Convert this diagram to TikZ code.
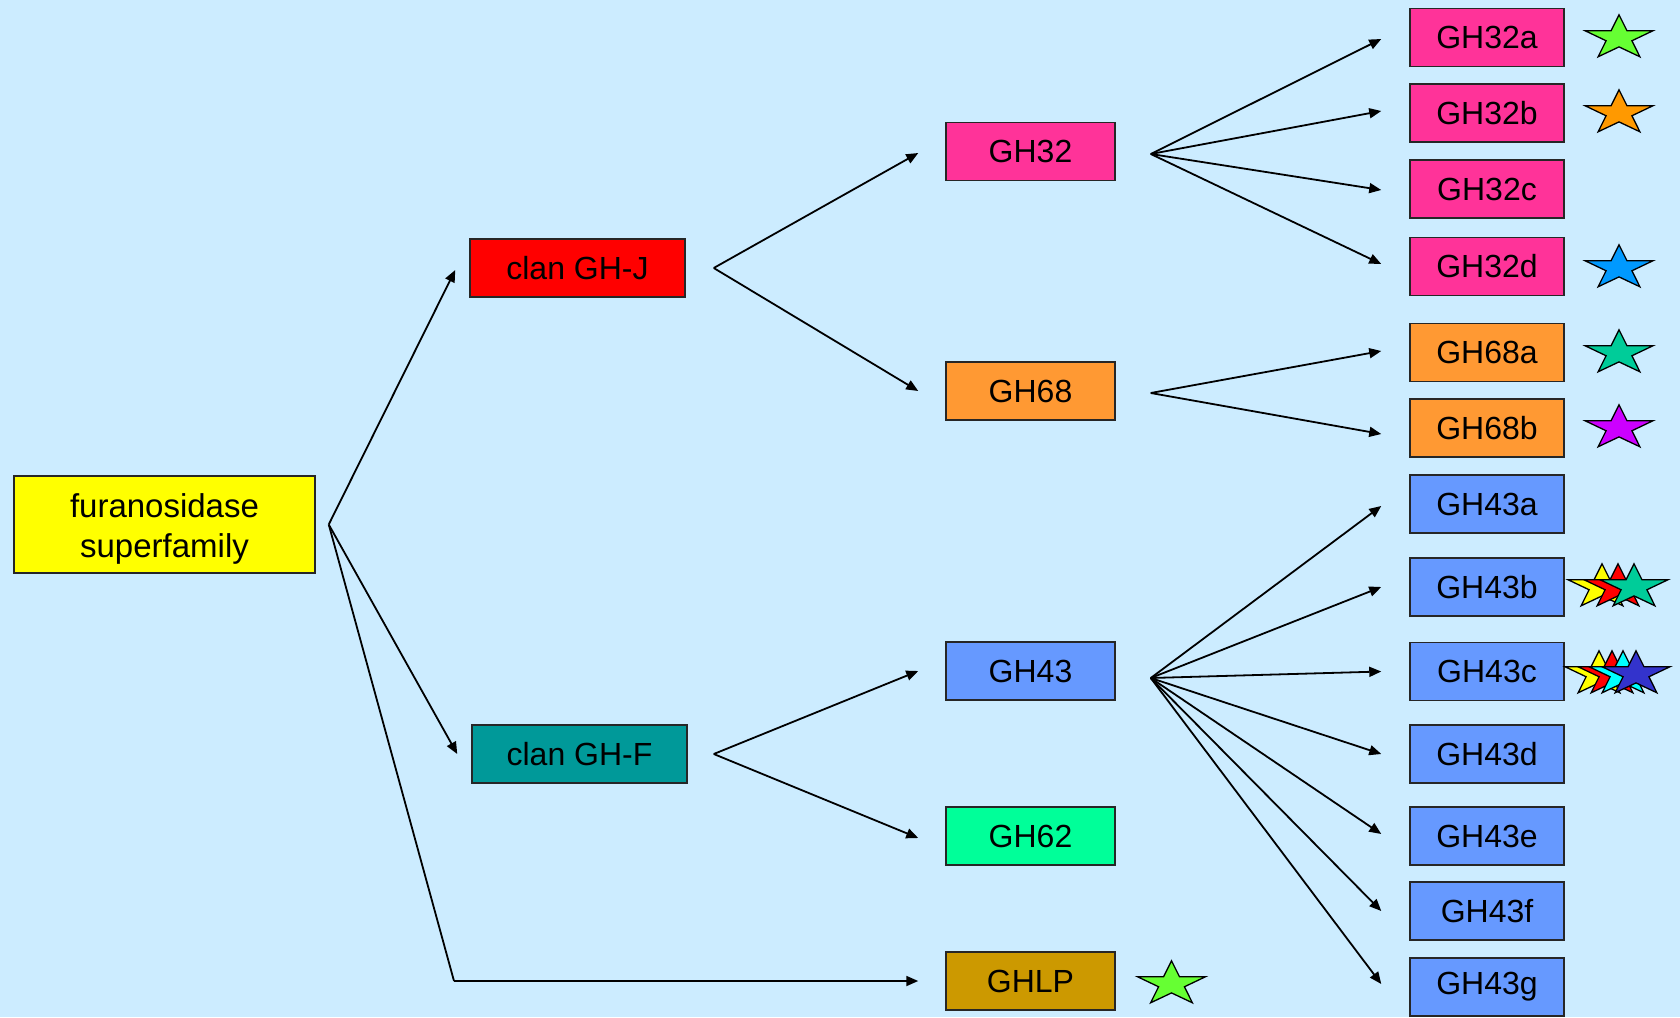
\documentclass[tikz,border=0pt]{standalone}
\usepackage{fontspec}
\setmainfont{Liberation Sans}
\usetikzlibrary{arrows.meta}

\definecolor{bgblue}{HTML}{CCECFF}
\definecolor{famyellow}{HTML}{FFFF00}
\definecolor{clanred}{HTML}{FF0000}
\definecolor{clanteal}{HTML}{009999}
\definecolor{ghpink}{HTML}{FF3399}
\definecolor{ghorange}{HTML}{FF9933}
\definecolor{ghblue}{HTML}{6699FF}
\definecolor{ghgreen}{HTML}{00FF99}
\definecolor{ghgold}{HTML}{CC9900}
\definecolor{stlime}{HTML}{66FF33}
\definecolor{storange}{HTML}{FF9900}
\definecolor{stsky}{HTML}{0099FF}
\definecolor{stteal}{HTML}{00CC99}
\definecolor{stviolet}{HTML}{CC00FF}
\definecolor{styellow}{HTML}{FFFF00}
\definecolor{stred}{HTML}{FF0000}
\definecolor{stcyan}{HTML}{00FFFF}
\definecolor{stnavy}{HTML}{3333CC}

\tikzset{
  box/.style={draw=black!85, line width=1.5pt, rectangle, inner sep=0pt,
    font=\fontsize{32}{38}\selectfont, text=black},
  rootbox/.style={box, fill=famyellow, minimum width=301pt, minimum height=97pt,
    font=\fontsize{33}{40}\selectfont, align=center},
  clanbox/.style={box, minimum width=215pt, minimum height=58pt},
  midbox/.style={box, minimum width=169pt, minimum height=58pt},
  leafbox/.style={box, minimum width=154pt, minimum height=58pt},
  link/.style={line width=1.8pt, -{Triangle[length=12pt,width=10pt]}},
  plain/.style={line width=1.8pt},
  fivestar/.pic={
    \draw[line width=1.3pt, line join=miter, fill=#1]
      (-90:35.5 and 23.2) -- (-54:13.6 and 8.9) -- (-18:35.5 and 23.2) --
      (18:13.6 and 8.9) -- (54:35.5 and 23.2) -- (90:13.6 and 8.9) --
      (126:35.5 and 23.2) -- (162:13.6 and 8.9) -- (198:35.5 and 23.2) --
      (234:13.6 and 8.9) -- cycle;
  }
}

\begin{document}
\begin{tikzpicture}[x=1pt,y=-1pt]
  % background
  \fill[bgblue] (0,0) rectangle (1680,1017);
  \useasboundingbox (0,0) rectangle (1680,1017);

  % root and clans (the strut on the first line sets the text a little lower)
  \node[rootbox] (root) at (164.5,524.5)
    {\rule{0pt}{33pt}furanosidase\\superfamily};
  \node[clanbox, fill=clanred] (cgj) at (577.5,268) {clan GH-J};
  \node[clanbox, fill=clanteal] (cgf) at (579.5,754) {clan GH-F};

  % families
  \node[midbox, fill=ghpink]   (gh32) at (1030.5,151.5) {GH32};
  \node[midbox, fill=ghorange] (gh68) at (1030.5,391)   {GH68};
  \node[midbox, fill=ghblue]   (gh43) at (1030.5,671)   {GH43};
  \node[midbox, fill=ghgreen]  (gh62) at (1030.5,836)   {GH62};
  \node[midbox, fill=ghgold]   (ghlp) at (1030.5,981)   {GHLP};

  % subfamilies
  \node[leafbox, fill=ghpink]   (gh32a) at (1487,37.5)  {GH32a};
  \node[leafbox, fill=ghpink]   (gh32b) at (1487,113)   {GH32b};
  \node[leafbox, fill=ghpink]   (gh32c) at (1487,189)   {GH32c};
  \node[leafbox, fill=ghpink]   (gh32d) at (1487,266.5) {GH32d};
  \node[leafbox, fill=ghorange] (gh68a) at (1487,352.5) {GH68a};
  \node[leafbox, fill=ghorange] (gh68b) at (1487,428)   {GH68b};
  \node[leafbox, fill=ghblue]   (gh43a) at (1487,504)   {GH43a};
  \node[leafbox, fill=ghblue]   (gh43b) at (1487,587)   {GH43b};
  \node[leafbox, fill=ghblue]   (gh43c) at (1487,671.5) {GH43c};
  \node[leafbox, fill=ghblue]   (gh43d) at (1487,754)   {GH43d};
  \node[leafbox, fill=ghblue]   (gh43e) at (1487,836)   {GH43e};
  \node[leafbox, fill=ghblue]   (gh43f) at (1487,911)   {GH43f};
  \node[leafbox, fill=ghblue]   (gh43g) at (1487,987)   {GH43g};

  % branching points
  \coordinate (jroot) at ([xshift=13pt]root.east);
  \coordinate (jcgj)  at ([xshift=28pt]cgj.east);
  \coordinate (jcgf)  at ([xshift=26pt]cgf.east);
  \coordinate (j32)   at ([xshift=35pt,yshift=-2.5pt]gh32.east);
  \coordinate (j68)   at ([xshift=35pt,yshift=-2pt]gh68.east);
  \coordinate (j43)   at ([xshift=35pt,yshift=-7pt]gh43.east);
  \coordinate (lpbend) at (454,981);

  % superfamily to clans
  \draw[link] (jroot) -- ([xshift=-14pt,yshift=-2pt]cgj.west);
  \draw[link] (jroot) -- ([xshift=-14pt]cgf.west);
  \draw[plain] (jroot) -- (lpbend);
  \draw[link] (lpbend) -- ([xshift=-27pt]ghlp.west);

  % clans to families
  \draw[link] (jcgj) -- ([xshift=-27pt,yshift=-1.5pt]gh32.west);
  \draw[link] (jcgj) -- ([xshift=-27pt]gh68.west);
  \draw[link] (jcgf) -- ([xshift=-27pt]gh43.west);
  \draw[link] (jcgf) -- ([xshift=-27pt,yshift=-2pt]gh62.west);

  % families to subfamilies
  \draw[link] (j32) -- ([xshift=-28pt,yshift=-1.5pt]gh32a.west);
  \draw[link] (j32) -- ([xshift=-28pt,yshift=2pt]gh32b.west);
  \draw[link] (j32) -- ([xshift=-28pt,yshift=-1pt]gh32c.west);
  \draw[link] (j32) -- ([xshift=-28pt,yshift=2.5pt]gh32d.west);
  \draw[link] (j68) -- ([xshift=-28pt,yshift=1.5pt]gh68a.west);
  \draw[link] (j68) -- ([xshift=-28pt,yshift=-6pt]gh68b.west);
  \draw[link] (j43) -- ([xshift=-28pt,yshift=-2pt]gh43a.west);
  \draw[link] (j43) -- ([xshift=-28pt]gh43b.west);
  \draw[link] (j43) -- ([xshift=-28pt]gh43c.west);
  \draw[link] (j43) -- ([xshift=-28pt]gh43d.west);
  \draw[link] (j43) -- ([xshift=-28pt,yshift=2pt]gh43e.west);
  \draw[link] (j43) -- ([xshift=-28pt]gh43f.west);
  \draw[link] (j43) -- ([xshift=-28pt,yshift=3pt]gh43g.west);

  % markers
  \pic at (1619,38)  {fivestar=stlime};
  \pic at (1619,113) {fivestar=storange};
  \pic at (1619,268) {fivestar=stsky};
  \pic at (1619,353) {fivestar=stteal};
  \pic at (1619,428) {fivestar=stviolet};
  \pic at (1602,587) {fivestar=styellow};
  \pic at (1618,587) {fivestar=stred};
  \pic at (1634,587) {fivestar=stteal};
  \pic at (1599,674) {fivestar=styellow};
  \pic at (1612,674) {fivestar=stred};
  \pic at (1623,674) {fivestar=stcyan};
  \pic at (1636,674) {fivestar=stnavy};
  \pic at (1171.5,984) {fivestar=stlime};
\end{tikzpicture}
\end{document}
